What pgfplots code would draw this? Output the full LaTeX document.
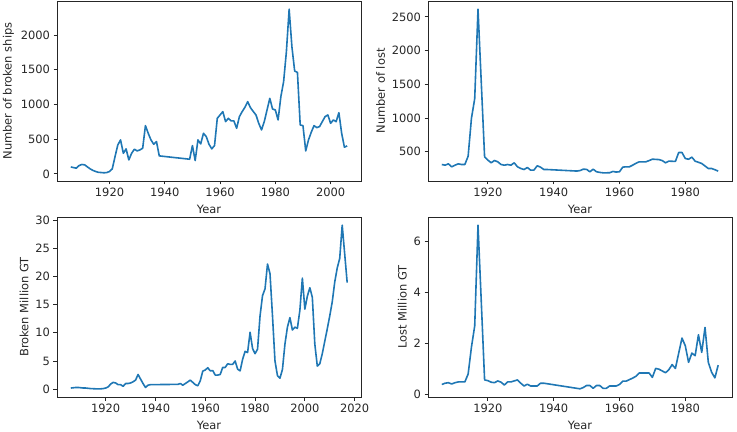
\documentclass[border=0pt]{standalone}
\usepackage{pgfplots}
\pgfplotsset{compat=1.18}
\usepackage{fontspec}
\setmainfont{DejaVu Sans}
\definecolor{mplblue}{HTML}{1F77B4}
\definecolor{mplgray}{HTML}{262626}
\pgfplotsset{
  mpl/.style={
    scale only axis, width=304bp, height=180bp, anchor=south west,
    axis line style={line width=0.8bp, mplgray},
    tick align=outside, tick pos=left,
    major tick length=3.5bp,
    every tick/.style={mplgray, line width=0.8bp},
    tick label style={font=\fontsize{11.5}{13}\selectfont, text=mplgray},
    label style={font=\fontsize{11.5}{13}\selectfont, text=mplgray},
    /pgf/number format/assume math mode=true,
    /pgf/number format/set thousands separator={},
    scaled ticks=false,
    enlarge x limits=0.05, enlarge y limits=0.05,
    xlabel={Year},
    xlabel style={yshift=-2bp},
  },
  line/.style={mplblue, line width=1.6bp, no markers, line join=round},
}
\begin{document}
\begin{tikzpicture}
\path[use as bounding box] (0,0) rectangle (737bp,432bp);
% top left
\begin{axis}[mpl, at={(57bp,251bp)}, ylabel={Number of broken ships},
  xtick={1920,1940,...,2000}, ytick={0,500,...,2000}]
\addplot[line] coordinates {
(1906,100)(1907,90)(1908,82)(1909,120)(1910,135)(1911,130)(1912,100)(1913,72)(1914,50)(1915,34)
(1916,22)(1917,19)(1918,15)(1919,19)(1920,34)(1921,72)(1922,249)(1923,417)(1924,489)(1925,297)
(1926,360)(1927,201)(1928,297)(1929,355)(1930,331)(1931,345)(1932,369)(1933,695)(1934,585)(1935,489)
(1936,427)(1937,465)(1938,259)(1949,211)(1950,408)(1951,192)(1952,489)(1953,432)(1954,585)(1955,537)
(1956,427)(1957,360)(1958,408)(1959,801)(1960,849)(1961,897)(1962,753)(1963,801)(1964,763)(1965,763)
(1966,657)(1967,825)(1968,897)(1969,960)(1970,1041)(1971,954)(1972,900)(1973,849)(1974,729)(1975,633)
(1976,753)(1977,921)(1978,1089)(1979,935)(1980,921)(1981,777)(1982,1113)(1983,1329)(1984,1760)(1985,2374)
(1986,1832)(1987,1482)(1988,1463)(1989,705)(1990,695)(1991,331)(1992,489)(1993,600)(1994,695)(1995,667)
(1996,681)(1997,753)(1998,825)(1999,849)(2000,729)(2001,777)(2002,753)(2003,882)(2004,585)(2005,384)(2006,403)
};
\end{axis}
% top right
\begin{axis}[mpl, at={(428bp,251bp)}, ylabel={Number of lost},
  xtick={1920,1940,...,1980}, ytick={500,1000,...,2500}]
\addplot[line] coordinates {
(1906,312)(1907,302)(1908,322)(1909,278)(1910,302)(1911,322)(1912,312)(1913,312)(1914,436)(1915,994)
(1916,1290)(1917,2614)(1918,1520)(1919,426)(1920,377)(1921,337)(1922,372)(1923,352)(1924,312)(1925,302)
(1926,312)(1927,302)(1928,337)(1929,278)(1930,253)(1931,238)(1932,268)(1933,228)(1934,230)(1935,293)
(1936,273)(1937,238)(1938,238)(1947,215)(1948,222)(1949,243)(1950,240)(1951,204)(1952,243)(1953,205)
(1954,195)(1955,189)(1956,189)(1957,190)(1958,209)(1959,200)(1960,205)(1961,273)(1962,278)(1963,278)
(1964,302)(1965,330)(1966,352)(1967,352)(1968,352)(1969,370)(1970,391)(1971,388)(1972,385)(1973,370)
(1974,337)(1975,362)(1976,360)(1977,358)(1978,490)(1979,490)(1980,401)(1981,390)(1982,421)(1983,362)
(1984,345)(1985,327)(1986,290)(1987,253)(1988,253)(1989,235)(1990,214)
};
\end{axis}
% bottom left
\begin{axis}[mpl, at={(57bp,35bp)}, ylabel={Broken Million GT},
  xtick={1920,1940,...,2020}, ytick={0,5,...,30}]
\addplot[line] coordinates {
(1906,0.2)(1907,0.25)(1908,0.3)(1909,0.3)(1910,0.25)(1911,0.2)(1912,0.2)(1913,0.15)(1914,0.1)(1915,0.08)
(1916,0.06)(1917,0.06)(1918,0.06)(1919,0.1)(1920,0.2)(1921,0.4)(1922,0.9)(1923,1.2)(1924,1.1)(1925,0.8)
(1926,0.8)(1927,0.5)(1928,1.0)(1929,1.0)(1930,1.1)(1931,1.3)(1932,1.6)(1933,2.6)(1934,1.8)(1935,1.0)
(1936,0.3)(1937,0.7)(1938,0.8)(1949,0.85)(1950,1.0)(1951,0.7)(1952,1.0)(1953,1.3)(1954,1.6)(1955,1.2)
(1956,0.8)(1957,0.6)(1958,1.5)(1959,3.2)(1960,3.4)(1961,3.8)(1962,3.25)(1963,3.3)(1964,2.5)(1965,2.5)
(1966,2.6)(1967,3.85)(1968,3.85)(1969,4.5)(1970,4.4)(1971,4.4)(1972,5.0)(1973,3.55)(1974,3.25)(1975,5.3)
(1976,6.7)(1977,6.5)(1978,10.1)(1979,7.2)(1980,6.3)(1981,7.1)(1982,13.0)(1983,16.6)(1984,17.8)(1985,22.2)
(1986,20.5)(1987,13.0)(1988,5.0)(1989,2.4)(1990,1.95)(1991,3.5)(1992,8.0)(1993,11.0)(1994,12.7)(1995,10.5)
(1996,11.0)(1997,10.8)(1998,14.0)(1999,19.7)(2000,14.2)(2001,16.5)(2002,18.0)(2003,16.3)(2004,8.0)(2005,4.1)
(2006,4.5)(2007,6.3)(2008,8.5)(2009,10.7)(2010,13.0)(2011,15.5)(2012,19.0)(2013,21.5)(2014,23.2)(2015,29.1)
(2016,24.0)(2017,18.9)
};
\end{axis}
% bottom right
\begin{axis}[mpl, at={(428bp,35bp)}, ylabel={Lost Million GT},
  xtick={1920,1940,...,1980}, ytick={0,2,4,6}]
\addplot[line] coordinates {
(1906,0.37)(1907,0.42)(1908,0.44)(1909,0.39)(1910,0.44)(1911,0.47)(1912,0.47)(1913,0.47)(1914,0.78)(1915,1.83)
(1916,2.67)(1917,6.62)(1918,3.6)(1919,0.55)(1920,0.52)(1921,0.46)(1922,0.44)(1923,0.51)(1924,0.46)(1925,0.35)
(1926,0.47)(1927,0.47)(1928,0.51)(1929,0.55)(1930,0.42)(1931,0.31)(1932,0.38)(1933,0.31)(1934,0.31)(1935,0.31)
(1936,0.42)(1937,0.42)(1938,0.40)(1948,0.20)(1949,0.25)(1950,0.33)(1951,0.33)(1952,0.22)(1953,0.33)(1954,0.33)
(1955,0.22)(1956,0.22)(1957,0.31)(1958,0.31)(1959,0.31)(1960,0.37)(1961,0.50)(1962,0.50)(1963,0.56)(1964,0.62)
(1965,0.69)(1966,0.82)(1967,0.82)(1968,0.82)(1969,0.82)(1970,0.65)(1971,1.0)(1972,0.97)(1973,0.90)(1974,0.83)
(1975,0.95)(1976,1.15)(1977,1.0)(1978,1.6)(1979,2.19)(1980,1.89)(1981,1.24)(1982,1.6)(1983,1.5)(1984,2.32)
(1985,1.63)(1986,2.61)(1987,1.24)(1988,0.85)(1989,0.63)(1990,1.13)
};
\end{axis}
\end{tikzpicture}
\end{document}
